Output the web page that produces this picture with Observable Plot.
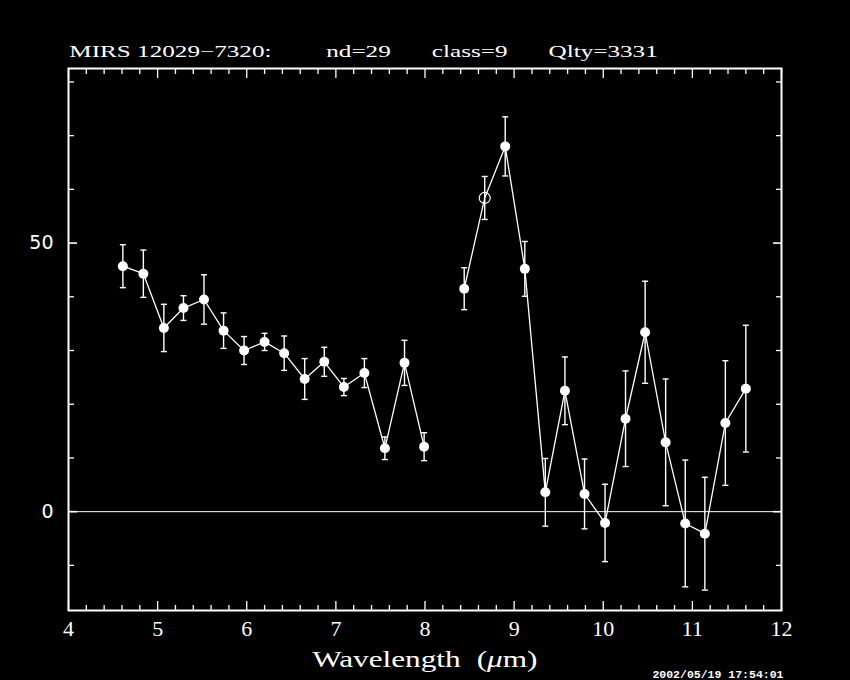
<!DOCTYPE html>
<html>
<head>
<meta charset="utf-8">
<script src="https://cdn.jsdelivr.net/npm/d3@7"></script>
<script src="https://cdn.jsdelivr.net/npm/@observablehq/plot@0.6"></script>
<style>
html, body { margin: 0; padding: 0; background: #000; overflow: hidden; }
#chart svg { display: block; }
</style>
</head>
<body>
<div id="chart"></div>
<script>
// ---- data ----
const wavelength = [4.61, 4.84, 5.07, 5.29, 5.52, 5.74, 5.97, 6.20, 6.42, 6.65, 6.87, 7.09, 7.32, 7.55, 7.77, 7.99,
                    8.44, 8.67, 8.90, 9.12, 9.35, 9.57, 9.79, 10.02, 10.25, 10.47, 10.70, 10.92, 11.14, 11.37, 11.60];
const flux = [45.7, 44.3, 34.2, 37.9, 39.5, 33.7, 30.0, 31.6, 29.5, 24.7, 27.9, 23.2, 25.8, 11.8, 27.7, 12.1,
              41.5, 58.4, 68.0, 45.2, 3.6, 22.5, 3.3, -2.1, 17.3, 33.4, 12.9, -2.2, -4.1, 16.5, 22.9];
const fluxError = [4.0, 4.4, 4.4, 2.3, 4.6, 3.3, 2.6, 1.6, 3.2, 3.8, 2.7, 1.6, 2.7, 2.1, 4.2, 2.6,
                   3.9, 4.0, 5.5, 5.1, 6.3, 6.3, 6.5, 7.2, 8.9, 9.5, 11.8, 11.8, 10.5, 11.6, 11.8];
const segment = [1,1,1,1,1,1,1,1,1,1,1,1,1,1,1,1, 2,2,2,2,2,2,2,2,2,2,2,2,2,2,2];
const openMarker = [false,false,false,false,false,false,false,false,false,false,false,false,false,false,false,false,
                    false,true,false,false,false,false,false,false,false,false,false,false,false,false,false];

const xMajorTicks = [4, 5, 6, 7, 8, 9, 10, 11, 12];
const xMinorTicks = [4.2,4.4,4.6,4.8,5.2,5.4,5.6,5.8,6.2,6.4,6.6,6.8,7.2,7.4,7.6,7.8,8.2,8.4,8.6,8.8,
                     9.2,9.4,9.6,9.8,10.2,10.4,10.6,10.8,11.2,11.4,11.6,11.8];
const yMinorTicks = [-10, 10, 20, 30, 40, 60, 70, 80];
const yMajorTicks = [0, 50];
const yTickLabels = [0, 50];
const yDomain = [-18.4, 82.5];
const xDomain = [4, 12];

const titleName = "MIRS 12029\u22127320:";
const titleInfo = "    nd=29   class=9   Qlty=3331";
const title = titleName + titleInfo;
const xLabel = "Wavelength (\u03bcm)";
const timestamp = "2002/05/19 17:54:01";

// ---- table ----
const rows = wavelength.map((w, i) => ({
  w, f: flux[i], e: fluxError[i], seg: segment[i], open: openMarker[i]
}));

const cap = { draw(ctx) { ctx.moveTo(-3, 0); ctx.lineTo(3, 0); } };
const W = "white";

const chart = Plot.plot({
  width: 850,
  height: 680,
  marginLeft: 68,
  marginRight: 69,
  marginTop: 68,
  marginBottom: 70,
  style: { background: "black", color: "white" },
  x: { domain: xDomain },
  y: { domain: yDomain },
  marks: [
    Plot.ruleY([0], { stroke: W, strokeWidth: 1 }),
    Plot.ruleX(rows, { x: "w", y1: d => d.f - d.e, y2: d => d.f + d.e, stroke: W, strokeWidth: 1.4 }),
    Plot.dot(rows, { x: "w", y: d => d.f + d.e, symbol: cap, fill: "none", stroke: W, strokeWidth: 1.4 }),
    Plot.dot(rows, { x: "w", y: d => d.f - d.e, symbol: cap, fill: "none", stroke: W, strokeWidth: 1.4 }),
    Plot.line(rows, { x: "w", y: "f", z: "seg", stroke: W, strokeWidth: 1.3 }),
    Plot.dot(rows.filter(d => !d.open), { x: "w", y: "f", r: 5, fill: W }),
    Plot.dot(rows.filter(d => d.open), { x: "w", y: "f", r: 5.5, fill: "none", stroke: W, strokeWidth: 1.2 }),
    Plot.frame({ stroke: W, strokeWidth: 2 }),
    // ticks (inward)
    Plot.axisX(xMinorTicks, { anchor: "bottom", tickSize: -5, tickFormat: () => "", label: null, stroke: W, strokeWidth: 1.3 }),
    Plot.axisX(xMinorTicks, { anchor: "top", tickSize: -5, tickFormat: () => "", label: null, stroke: W, strokeWidth: 1.3 }),
    Plot.axisX(xMajorTicks, { anchor: "bottom", tickSize: -9, tickFormat: () => "", label: null, stroke: W, strokeWidth: 1.3 }),
    Plot.axisX(xMajorTicks, { anchor: "top", tickSize: -9, tickFormat: () => "", label: null, stroke: W, strokeWidth: 1.3 }),
    Plot.axisY(yMinorTicks, { anchor: "left", tickSize: -6, tickFormat: () => "", label: null, stroke: W, strokeWidth: 1.3 }),
    Plot.axisY(yMinorTicks, { anchor: "right", tickSize: -6, tickFormat: () => "", label: null, stroke: W, strokeWidth: 1.3 }),
    Plot.axisY(yMajorTicks, { anchor: "left", tickSize: -9, tickFormat: () => "", label: null, stroke: W, strokeWidth: 1.6 }),
    Plot.axisY(yMajorTicks, { anchor: "right", tickSize: -9, tickFormat: () => "", label: null, stroke: W, strokeWidth: 1.6 }),
    // tick labels
    Plot.axisX(xMajorTicks, { anchor: "bottom", tickSize: 0, tickPadding: 10, label: null,
      fontFamily: "Liberation Serif", fontSize: 22, fill: W }),
    Plot.axisY(yTickLabels, { anchor: "left", tickSize: 0, tickPadding: 15, label: null,
      fontFamily: "DejaVu Sans", fontSize: 19, fill: W }),
    // title, axis label, timestamp
    Plot.text([title], { text: d => d, frameAnchor: "top-left", textAnchor: "start", lineAnchor: "bottom",
      dx: 2, dy: -12, fontFamily: "Liberation Serif", fontSize: 17, fill: W }),
    Plot.text([xLabel], { text: d => d, frameAnchor: "bottom", textAnchor: "middle", lineAnchor: "bottom",
      dx: 0, dy: 56, fontFamily: "Liberation Serif", fontSize: 23, fill: W }),
    Plot.text([timestamp], { text: d => d, frameAnchor: "bottom-right", textAnchor: "end", lineAnchor: "bottom",
      dx: 2, dy: 67, fontFamily: "Liberation Mono", fontSize: 11.5, fontWeight: "bold", fill: W })
  ]
});

document.getElementById("chart").appendChild(chart);

// horizontally stretch a text like the reference's wide stroke font
function stretch(el, sx, anchor) {
  const svgRect = chart.getBoundingClientRect();
  const r = el.getBoundingClientRect();
  const ax = anchor === "start" ? r.left - svgRect.left
           : anchor === "middle" ? (r.left + r.right) / 2 - svgRect.left
           : r.right - svgRect.left;
  const g = document.createElementNS("http://www.w3.org/2000/svg", "g");
  g.setAttribute("transform", `translate(${ax},0) scale(${sx},1) translate(${-ax},0)`);
  el.parentNode.insertBefore(g, el);
  g.appendChild(el);
}

const texts = d3.select(chart).selectAll("text");
texts.filter(function () { return this.textContent === title; })
  .each(function () {
    const t = d3.select(this);
    t.text(null);
    t.append("tspan").text(titleName);
    t.append("tspan").style("word-spacing", "5px").text(titleInfo);
  })
  .each(function () { stretch(this, 1.48, "start"); });

texts.filter(function () { return this.textContent === xLabel; })
  .style("word-spacing", "6px")
  .each(function () {
    const t = d3.select(this);
    const parts = xLabel.split("\u03bc");
    t.text(null);
    t.append("tspan").text(parts[0]);
    t.append("tspan").attr("font-style", "italic").text("\u03bc");
    t.append("tspan").text(parts[1]);
  })
  .each(function () { stretch(this, 1.36, "middle"); });
</script>
</body>
</html>
